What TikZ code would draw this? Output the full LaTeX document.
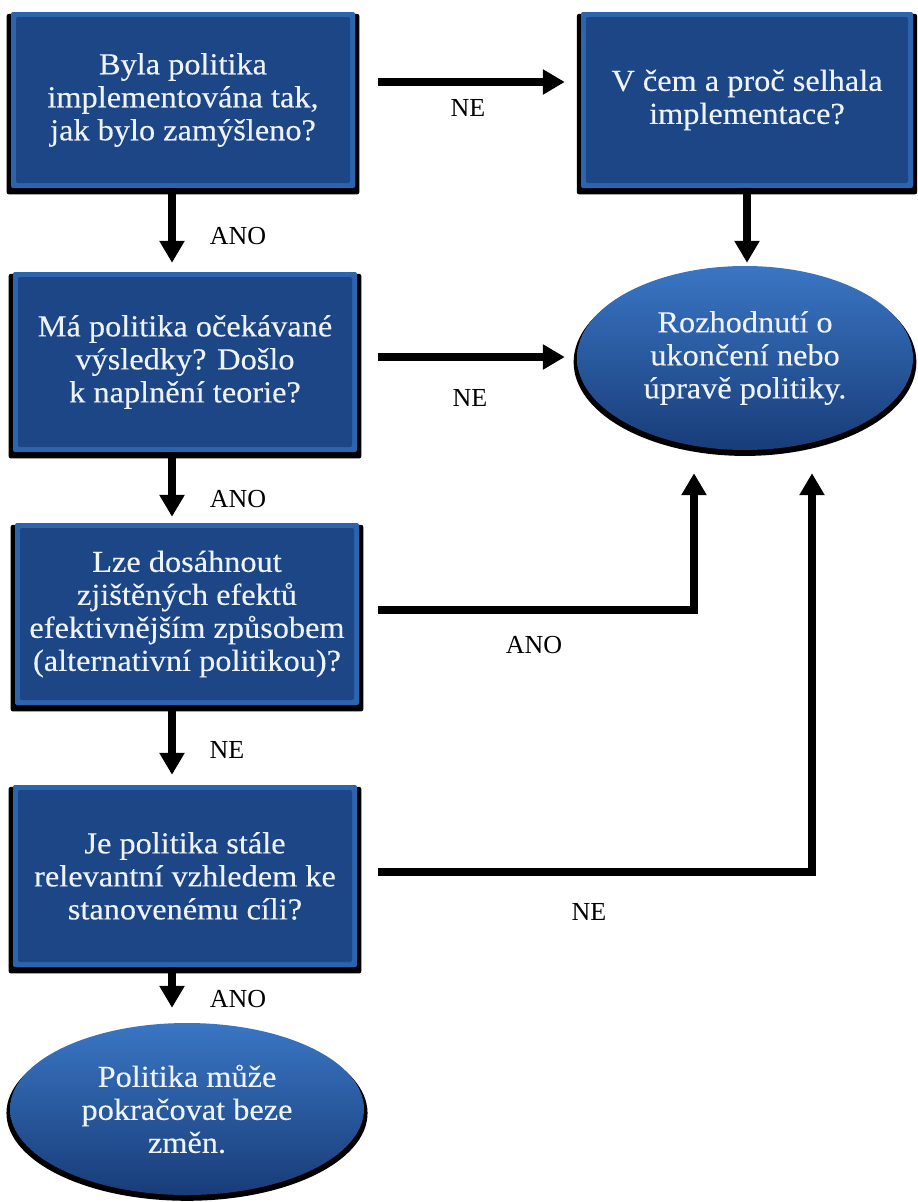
\documentclass[tikz,border=0pt]{standalone}
\usepackage{fontspec}
\setmainfont{Liberation Serif}
\newfontfamily\boxfont[FakeStretch=1.06,FakeBold=0.3]{Liberation Serif}
\usetikzlibrary{shapes.geometric,shadows,arrows.meta}
\definecolor{edgeblue}{HTML}{2D64AE}
\definecolor{midblue}{HTML}{1D4687}
\definecolor{txtw}{HTML}{EEF3FA}
\definecolor{elltop}{HTML}{3A76C4}
\definecolor{ellmid}{HTML}{1F4C8E}
\definecolor{ellbot}{HTML}{183C78}
\begin{document}
\begin{tikzpicture}[x=1pt,y=-1pt,
  qbox/.style={rectangle, rounded corners=2pt, fill=edgeblue, text=txtw, align=center,
    inner sep=0pt, font=\boxfont\fontsize{30.5}{33}\selectfont,
    general shadow={fill=black, shadow scale=1.025, shadow yshift=-4pt},
    path picture={\fill[midblue] ([shift={(5pt,5pt)}]path picture bounding box.south west)
      rectangle ([shift={(-5pt,-5pt)}]path picture bounding box.north east);}},
  oval/.style={ellipse, top color=elltop, middle color=ellmid, bottom color=ellbot,
    text=txtw, align=center, inner sep=0pt, font=\boxfont\fontsize{30.5}{33}\selectfont,
    general shadow={fill=black, shadow scale=1.02, shadow yshift=-4pt}},
  arr/.style={line width=8pt, -{Triangle[width=24pt,length=22pt]}},
  lbl/.style={font=\fontsize{26}{30}\selectfont, anchor=base, inner sep=0pt}]
\useasboundingbox[fill=white] (0,0) rectangle (918,1202);

\node[qbox, minimum width=344pt, minimum height=176pt] (b1) at (183,100)
  {Byla politika\\implementována tak,\\jak bylo zamýšleno?};
\node[qbox, minimum width=332pt, minimum height=176pt] (b2) at (747,100)
  {V čem a proč selhala\\implementace?};
\node[qbox, minimum width=344pt, minimum height=180pt] (b3) at (185,362)
  {Má politika očekávané\\výsledky? Došlo\\k naplnění teorie?};
\node[qbox, minimum width=344pt, minimum height=182pt] (b4) at (187,614)
  {Lze dosáhnout\\zjištěných efektů\\efektivnějším způsobem\\(alternativní politikou)?};
\node[qbox, minimum width=344pt, minimum height=182pt] (b5) at (185,876)
  {Je politika stále\\relevantní vzhledem ke\\stanovenému cíli?};
\node[oval, minimum width=336pt, minimum height=184pt] (e1) at (745,358)
  {Rozhodnutí o\\ukončení nebo\\úpravě politiky.};
\node[oval, minimum width=354pt, minimum height=172pt] (e2) at (187,1109)
  {Politika může\\pokračovat beze\\změn.};

\draw[arr] ([xshift=23pt,yshift=18pt]b1.east) -- ([xshift=-16pt,yshift=18pt]b2.west);
\draw[arr] ([xshift=-11pt]b1.south) -- ([xshift=-13pt,yshift=9pt]b3.north);
\draw[arr] (b2.south) -- ([xshift=2pt,yshift=3pt]e1.north);
\draw[arr] ([xshift=21pt,yshift=5pt]b3.east) -- ([xshift=-12pt,yshift=1pt]e1.west);
\draw[arr] ([xshift=-13pt]b3.south) -- ([xshift=-15pt,yshift=6pt]b4.north);
\draw[arr] ([xshift=19pt,yshift=4pt]b4.east) -| ([xshift=-51pt,yshift=-23pt]e1.south);
\draw[arr] ([xshift=-15pt]b4.south) -- ([xshift=-13pt,yshift=10pt]b5.north);
\draw[arr] ([xshift=21pt,yshift=4pt]b5.east) -| ([xshift=67pt,yshift=-23pt]e1.south);
\draw[arr] ([xshift=-13pt]b5.south) -- ([xshift=-15pt,yshift=15pt]e2.north);

\node[lbl] (l1) at (468,116) {NE};
\node[lbl] (l2) at (238,244) {ANO};
\node[lbl] (l3) at (470,406) {NE};
\node[lbl] (l4) at (238,507) {ANO};
\node[lbl] (l5) at (534,653) {ANO};
\node[lbl] (l6) at (227,758) {NE};
\node[lbl] (l7) at (589,920) {NE};
\node[lbl] (l8) at (238,1007) {ANO};
\end{tikzpicture}
\end{document}
